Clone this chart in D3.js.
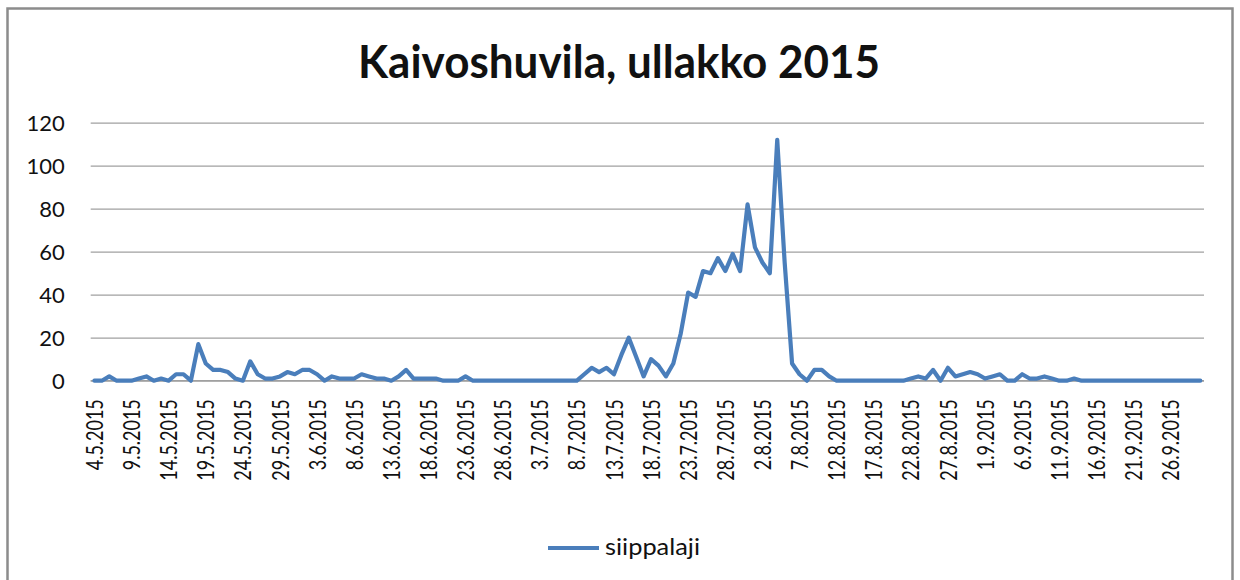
<!DOCTYPE html>
<html>
<head>
<meta charset="utf-8">
<script src="https://cdn.jsdelivr.net/npm/d3@7"></script>
<style>
  html, body { margin: 0; padding: 0; background: #ffffff; }
  svg { display: block; }
  text { font-family: Lato, "Open Sans", sans-serif; fill: #111111; }
</style>
</head>
<body>
<svg id="chart" width="1240" height="580"></svg>
<script>
// Daily counts, attic of Kaivoshuvila, 4.5.2015 – 30.9.2015
const chartTitle = "Kaivoshuvila, ullakko 2015";
const seriesName = "siippalaji";
const firstDay = "4.5.2015";

const siippalaji = [
  0, 0, 2, 0, 0, 0, 1, 2, 0, 1,
  0, 3, 3, 0, 17, 8, 5, 5, 4, 1,
  0, 9, 3, 1, 1, 2, 4, 3, 5, 5,
  3, 0, 2, 1, 1, 1, 3, 2, 1, 1,
  0, 2, 5, 1, 1, 1, 1, 0, 0, 0,
  2, 0, 0, 0, 0, 0, 0, 0, 0, 0,
  0, 0, 0, 0, 0, 0, 3, 6, 4, 6,
  3, 12, 20, 11, 2, 10, 7, 2, 8, 22,
  41, 39, 51, 50, 57, 51, 59, 51, 82, 62,
  55, 50, 112, 55, 8, 3, 0, 5, 5, 2,
  0, 0, 0, 0, 0, 0, 0, 0, 0, 0,
  1, 2, 1, 5, 0, 6, 2, 3, 4, 3,
  1, 2, 3, 0, 0, 3, 1, 1, 2, 1,
  0, 0, 1, 0, 0, 0, 0, 0, 0, 0,
  0, 0, 0, 0, 0, 0, 0, 0, 0, 0
];

const xTickLabels = [
  "4.5.2015", "9.5.2015", "14.5.2015", "19.5.2015", "24.5.2015", "29.5.2015",
  "3.6.2015", "8.6.2015", "13.6.2015", "18.6.2015", "23.6.2015", "28.6.2015",
  "3.7.2015", "8.7.2015", "13.7.2015", "18.7.2015", "23.7.2015", "28.7.2015",
  "2.8.2015", "7.8.2015", "12.8.2015", "17.8.2015", "22.8.2015", "27.8.2015",
  "1.9.2015", "6.9.2015", "11.9.2015", "16.9.2015", "21.9.2015", "26.9.2015"
];

const yTickValues = [0, 20, 40, 60, 80, 100, 120];

// one category per day, written the Finnish way (d.m.yyyy)
const parseDay = d3.timeParse("%-d.%-m.%Y");
const formatDay = d => `${d.getDate()}.${d.getMonth() + 1}.${d.getFullYear()}`;
const start = parseDay(firstDay);
const days = siippalaji.map((_, i) => formatDay(d3.timeDay.offset(start, i)));
const rows = days.map((day, i) => ({ day, value: siippalaji[i] }));

const svg = d3.select("#chart");
const plot = { left: 90.7, right: 1204, top: 122.7, bottom: 380.7 };

// chart frame
svg.append("rect")
  .attr("x", 7.5).attr("y", 8.5)
  .attr("width", 1225).attr("height", 620)
  .attr("fill", "#ffffff")
  .attr("stroke", "#8c8c8c")
  .attr("stroke-width", 2.5);

const x = d3.scalePoint()
  .domain(days)
  .range([plot.left, plot.right])
  .padding(0.5);

const y = d3.scaleLinear()
  .domain([0, 120])
  .range([plot.bottom, plot.top]);

// horizontal gridlines + value labels
const yAxis = svg.append("g")
  .attr("transform", `translate(${plot.left},0)`)
  .call(d3.axisLeft(y)
    .tickValues(yTickValues)
    .tickSize(-(plot.right - plot.left))
    .tickPadding(26));
yAxis.select(".domain").remove();
yAxis.selectAll(".tick line")
  .attr("stroke", "#a0a0a0")
  .attr("stroke-width", 1.2);
yAxis.selectAll(".tick text")
  .attr("font-size", 22)
  .attr("fill", "#111111")
  .attr("dy", "0.36em");

// category axis with rotated date labels
const xAxis = svg.append("g")
  .attr("transform", `translate(0,${plot.bottom})`)
  .call(d3.axisBottom(x)
    .tickValues(xTickLabels)
    .tickSize(0)
    .tickPadding(0));
xAxis.select(".domain")
  .attr("stroke", "#a0a0a0")
  .attr("stroke-width", 1.2)
  .attr("d", `M${plot.left},0H${plot.right}`);
xAxis.selectAll(".tick text")
  .attr("font-size", 22.5)
  .attr("fill", "#111111")
  .attr("text-anchor", "end")
  .attr("x", 0).attr("y", 0)
  .attr("dy", "0.36em")
  .attr("transform", "translate(0,18.5) rotate(-90) scale(0.8,1)");

// the series line
const line = d3.line()
  .x(d => x(d.day))
  .y(d => y(d.value));

svg.append("path")
  .datum(rows)
  .attr("fill", "none")
  .attr("stroke", "#4a7ebb")
  .attr("stroke-width", 4.2)
  .attr("stroke-linejoin", "round")
  .attr("stroke-linecap", "round")
  .attr("d", line);

// title
svg.append("text")
  .attr("x", 619).attr("y", 78)
  .attr("text-anchor", "middle")
  .attr("font-size", 46)
  .attr("font-weight", 700)
  .attr("fill", "#000000")
  .attr("textLength", 522)
  .attr("lengthAdjust", "spacingAndGlyphs")
  .text(chartTitle);

// legend
const legend = svg.append("g").attr("transform", "translate(548,548)");
legend.append("line")
  .attr("x1", 0).attr("x2", 51)
  .attr("y1", 0).attr("y2", 0)
  .attr("stroke", "#4a7ebb")
  .attr("stroke-width", 4.2);
legend.append("text")
  .attr("x", 57).attr("y", 0)
  .attr("dy", "0.32em")
  .attr("font-size", 23)
  .attr("fill", "#111111")
  .attr("textLength", 95)
  .attr("lengthAdjust", "spacingAndGlyphs")
  .text(seriesName);
</script>
</body>
</html>
